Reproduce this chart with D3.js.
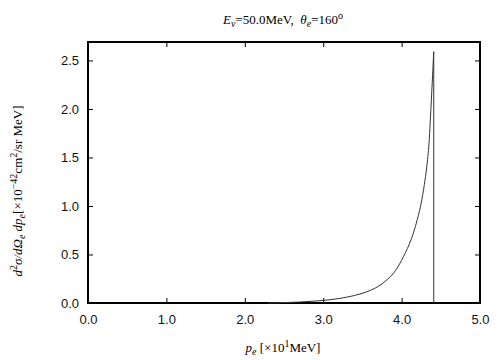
<!DOCTYPE html>
<html>
<head>
<meta charset="utf-8">
<script src="https://cdn.jsdelivr.net/npm/d3@7"></script>
<style>
  body { margin: 0; background: #fff; }
  .tick text { font-family: "Liberation Sans", Arial, sans-serif; font-size: 13px; fill: #111; }
  .lbl { font-family: "Liberation Serif", "Times New Roman", serif; font-size: 13px; fill: #000; white-space: pre; }
</style>
</head>
<body>
<div id="chart"></div>
<script>
// momentum p_e [x10 MeV] and cross section [x10^-42 cm^2/sr MeV]
const momentum = [2.3, 2.5, 2.7, 2.9, 3.1, 3.3, 3.5, 3.6, 3.7, 3.8, 3.9, 4.0, 4.05, 4.1, 4.15, 4.2, 4.25, 4.29, 4.32, 4.35, 4.38, 4.41, 4.41];
const crossSection = [0.0, 0.004, 0.010, 0.020, 0.035, 0.06, 0.10, 0.13, 0.17, 0.23, 0.31, 0.44, 0.52, 0.61, 0.72, 0.86, 1.03, 1.22, 1.40, 1.65, 2.10, 2.59, 0.0];
const xTicks = [0, 1, 2, 3, 4, 5];
const yTicks = [0, 0.5, 1.0, 1.5, 2.0, 2.5];

const width = 504, height = 360;
const margin = { top: 42, right: 24, bottom: 57, left: 88 };
const innerW = width - margin.left - margin.right;
const innerH = height - margin.top - margin.bottom;

const svg = d3.select("#chart").append("svg")
    .attr("width", width)
    .attr("height", height);

const g = svg.append("g")
    .attr("transform", `translate(${margin.left},${margin.top})`);

const x = d3.scaleLinear().domain([0, 5]).range([0, innerW]);
const y = d3.scaleLinear().domain([0, 2.69]).range([innerH, 0]);

// axes with inward ticks
const fmt = d3.format(".1f");
g.append("g")
    .attr("transform", `translate(0,${innerH})`)
    .call(d3.axisBottom(x).tickValues(xTicks).tickFormat(fmt).tickSizeInner(-5).tickSizeOuter(0).tickPadding(12));
g.append("g")
    .call(d3.axisTop(x).tickValues(xTicks).tickFormat("").tickSizeInner(-5).tickSizeOuter(0));
g.append("g")
    .call(d3.axisLeft(y).tickValues(yTicks).tickFormat(fmt).tickSizeInner(-5).tickSizeOuter(0).tickPadding(9));
g.append("g")
    .attr("transform", `translate(${innerW},0)`)
    .call(d3.axisRight(y).tickValues(yTicks).tickFormat("").tickSizeInner(-5).tickSizeOuter(0));
g.selectAll(".domain").remove();
g.selectAll(".tick line").attr("stroke", "#000");

// frame
g.append("rect")
    .attr("width", innerW)
    .attr("height", innerH)
    .attr("fill", "none")
    .attr("stroke", "#000")
    .attr("stroke-width", 2);

// curve
const line = d3.line()
    .x((d, i) => x(momentum[i]))
    .y(d => y(d))
    .curve(d3.curveMonotoneX);
g.append("path")
    .datum(crossSection.slice(0, -1))
    .attr("fill", "none")
    .attr("stroke", "#333")
    .attr("stroke-width", 1)
    .attr("d", line);
// drop at the end point
g.append("line")
    .attr("x1", x(momentum[momentum.length - 1]))
    .attr("x2", x(momentum[momentum.length - 1]))
    .attr("y1", y(crossSection[crossSection.length - 2]))
    .attr("y2", y(crossSection[crossSection.length - 1]))
    .attr("stroke", "#333")
    .attr("stroke-width", 1);

// title
const title = svg.append("text")
    .attr("class", "lbl")
    .attr("x", 283)
    .attr("y", 24)
    .attr("text-anchor", "middle");
title.append("tspan").attr("font-style", "italic").text("E");
title.append("tspan").attr("font-style", "italic").attr("font-size", "10px").attr("dy", 3).text("ν");
title.append("tspan").attr("dy", -3).text("=50.0MeV,  ");
title.append("tspan").attr("font-style", "italic").text("θ");
title.append("tspan").attr("font-style", "italic").attr("font-size", "10px").attr("dy", 3).text("e");
title.append("tspan").attr("dy", -3).text("=160");
title.append("tspan").attr("font-size", "10px").attr("dy", -5).text("o");

// x label
const xl = svg.append("text")
    .attr("class", "lbl")
    .attr("x", 283)
    .attr("y", 352)
    .attr("text-anchor", "middle");
xl.append("tspan").attr("font-style", "italic").text("p");
xl.append("tspan").attr("font-style", "italic").attr("font-size", "10px").attr("dy", 3).text("e");
xl.append("tspan").attr("dy", -3).text(" [×10");
xl.append("tspan").attr("font-size", "10px").attr("dy", -5).text("1");
xl.append("tspan").attr("dy", 5).text("MeV]");

// y label
const yl = svg.append("text")
    .attr("class", "lbl")
    .attr("transform", "translate(22,191) rotate(-90)")
    .attr("text-anchor", "middle");
yl.append("tspan").attr("font-style", "italic").text("d");
yl.append("tspan").attr("font-size", "10px").attr("dy", -5).text("2");
yl.append("tspan").attr("font-style", "italic").attr("dy", 5).text("σ/dΩ");
yl.append("tspan").attr("font-style", "italic").attr("font-size", "10px").attr("dy", 3).text("e");
yl.append("tspan").attr("font-style", "italic").attr("dy", -3).text(" dp");
yl.append("tspan").attr("font-style", "italic").attr("font-size", "10px").attr("dy", 3).text("e");
yl.append("tspan").attr("dy", -3).text("[×10");
yl.append("tspan").attr("font-size", "10px").attr("dy", -5).text("−42");
yl.append("tspan").attr("dy", 5).text("cm");
yl.append("tspan").attr("font-size", "10px").attr("dy", -5).text("2");
yl.append("tspan").attr("dy", 5).text("/sr MeV]");
</script>
</body>
</html>
